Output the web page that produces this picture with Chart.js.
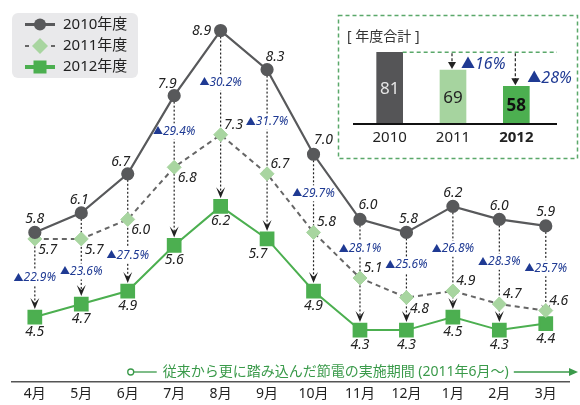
<!DOCTYPE html>
<html>
<head>
<meta charset="utf-8">
<script src="https://cdn.jsdelivr.net/npm/chart.js@4"></script>
<style>
body { margin: 0; background: #fff; }
#wrap { position: relative; width: 580px; height: 405px; }
#chart { position: absolute; left: 0; top: 0; }
#total { position: absolute; left: 337px; top: 14px; }
</style>
</head>
<body>
<div id="wrap">
  <canvas id="chart" width="580" height="405"></canvas>
  <canvas id="total" width="242" height="146"></canvas>
</div>
<script>
// monthly values
const months = ['4月', '5月', '6月', '7月', '8月', '9月', '10月', '11月', '12月', '1月', '2月', '3月'];
const fy2010 = [5.8, 6.1, 6.7, 7.9, 8.9, 8.3, 7.0, 6.0, 5.8, 6.2, 6.0, 5.9];
const fy2011 = [5.7, 5.7, 6.0, 6.8, 7.3, 6.7, 5.8, 5.1, 4.8, 4.9, 4.7, 4.6];
const fy2012 = [4.5, 4.7, 4.9, 5.6, 6.2, 5.7, 4.9, 4.3, 4.3, 4.5, 4.3, 4.4];
const reduction = [22.9, 23.6, 27.5, 29.4, 30.2, 31.7, 29.7, 28.1, 25.6, 26.8, 28.3, 25.7];
const seriesNames = ['2010年度', '2011年度', '2012年度'];

// yearly totals (inset)
const totalYears = ['2010', '2011', '2012'];
const totals = [81, 69, 58];
const totalReduction = [null, 16, 28];
const totalTitle = '[ 年度合計 ]';
const periodNote = '従来から更に踏み込んだ節電の実施期間 (2011年6月～)';
const periodStart = 2; // 6月

const FONT = "'Noto Sans', 'Noto Sans CJK JP', sans-serif";
const C2010 = '#58595b';
const C2011 = '#a8d5a0';
const C2012 = '#4caf50';
const BLUE = '#1f3a93';
const NOTE = '#3a9a4a';

function arrowHead(ctx, x, y, w, h) {
    // tip at (x, y), pointing down
    ctx.beginPath();
    ctx.moveTo(x, y);
    ctx.lineTo(x - w / 2, y - h);
    ctx.lineTo(x, y - h * 0.55);
    ctx.lineTo(x + w / 2, y - h);
    ctx.closePath();
    ctx.fill();
}

// upright triangle + italic number, returns nothing; align 'center' or 'left'
function drawDelta(ctx, txt, x, y, size, align) {
    const triFont = Math.round(size * 0.85) + 'px ' + FONT;
    const numFont = 'italic ' + size + 'px ' + FONT;
    ctx.font = triFont;
    const wt = ctx.measureText('▲').width;
    ctx.font = numFont;
    const wn = ctx.measureText(txt).width;
    const left = align === 'center' ? x - (wt + wn) / 2 : x;
    ctx.textAlign = 'left';
    ctx.textBaseline = 'middle';
    ctx.font = triFont;
    ctx.fillText('▲', left, y);
    ctx.font = numFont;
    ctx.fillText(txt, left + wt, y);
    return wt + wn;
}

const arrowsPlugin = {
    id: 'arrows',
    beforeDatasetsDraw(chart) {
        const ctx = chart.ctx;
        const m0 = chart.getDatasetMeta(0).data;
        const m1 = chart.getDatasetMeta(1).data;
        const m2 = chart.getDatasetMeta(2).data;
        ctx.save();
        m0.forEach((p, i) => {
            const x = p.x;
            const tip = m2[i].y - 8;
            ctx.strokeStyle = '#222';
            ctx.lineWidth = 1.2;
            ctx.setLineDash([2, 2]);
            ctx.beginPath();
            ctx.moveTo(x, p.y + 6);
            ctx.lineTo(x, tip - 5);
            ctx.stroke();
            ctx.setLineDash([]);
            ctx.fillStyle = '#222';
            arrowHead(ctx, x, tip, 9, 11);

            const gap = fy2010[i] - fy2011[i];
            const ly = gap < 0.8 ? (m1[i].y + m2[i].y) / 2 : (p.y + m1[i].y) / 2;
            const txt = reduction[i].toFixed(1) + '%';
            ctx.font = 'italic 12px ' + FONT;
            const w = ctx.measureText(txt).width + 11;
            ctx.fillStyle = '#fff';
            ctx.fillRect(x - w / 2 - 1, ly - 8, w + 2, 16);
            ctx.fillStyle = BLUE;
            drawDelta(ctx, txt, x, ly, 12, 'center');
        });
        ctx.restore();
    }
};

// label offsets per point (dx, dy)
const off2010 = [[0, -13], [-2, -13], [-7, -12], [-7, -12], [-19, 0], [8, -13], [10, -14], [8, -14], [2, -13], [0, -13], [0, -13], [0, -14]];
const below2011 = [0, 1, 2, 3, 8];

const valueLabels = {
    id: 'valueLabels',
    afterDatasetsDraw(chart) {
        const ctx = chart.ctx;
        ctx.save();
        ctx.font = 'italic 14px ' + FONT;
        ctx.fillStyle = '#222';
        ctx.textAlign = 'center';
        ctx.textBaseline = 'middle';
        chart.getDatasetMeta(0).data.forEach((p, i) => {
            ctx.fillText(fy2010[i].toFixed(1), p.x + off2010[i][0], p.y + off2010[i][1]);
        });
        chart.getDatasetMeta(1).data.forEach((p, i) => {
            const dy = below2011.includes(i) ? 11 : -10;
            ctx.fillText(fy2011[i].toFixed(1), p.x + 13, p.y + dy);
        });
        chart.getDatasetMeta(2).data.forEach((p, i) => {
            ctx.fillText(fy2012[i].toFixed(1), p.x + (i === 5 ? -9 : 0), p.y + 15);
        });
        ctx.restore();
    }
};

const legendAndNote = {
    id: 'legendAndNote',
    afterDraw(chart) {
        const ctx = chart.ctx;
        ctx.save();
        // legend box
        ctx.fillStyle = '#e9e9eb';
        ctx.beginPath();
        ctx.roundRect(12, 13, 126, 65, 6);
        ctx.fill();
        const rows = [24.5, 46, 67];
        ctx.lineWidth = 3;
        ctx.strokeStyle = C2010;
        ctx.beginPath(); ctx.moveTo(25, rows[0]); ctx.lineTo(55, rows[0]); ctx.stroke();
        ctx.fillStyle = C2010;
        ctx.beginPath(); ctx.arc(40, rows[0], 6, 0, Math.PI * 2); ctx.fill();

        ctx.strokeStyle = '#666';
        ctx.lineWidth = 2;
        ctx.beginPath(); ctx.moveTo(25, rows[1]); ctx.lineTo(29, rows[1]); ctx.moveTo(51, rows[1]); ctx.lineTo(55, rows[1]); ctx.stroke();
        ctx.fillStyle = C2011;
        ctx.beginPath();
        ctx.moveTo(40, rows[1] - 8); ctx.lineTo(48, rows[1]); ctx.lineTo(40, rows[1] + 8); ctx.lineTo(32, rows[1]);
        ctx.closePath(); ctx.fill();

        ctx.strokeStyle = C2012;
        ctx.lineWidth = 4;
        ctx.beginPath(); ctx.moveTo(25, rows[2]); ctx.lineTo(55, rows[2]); ctx.stroke();
        ctx.fillStyle = C2012;
        ctx.fillRect(33.5, rows[2] - 6.5, 13, 13);

        ctx.fillStyle = '#222';
        ctx.font = '15px ' + FONT;
        ctx.textAlign = 'left';
        ctx.textBaseline = 'middle';
        seriesNames.forEach((n, i) => ctx.fillText(n, 63, rows[i]));

        // period note
        const xs = chart.scales.x;
        const y = 372;
        const x0 = xs.getPixelForValue(periodStart) + 3;
        ctx.strokeStyle = NOTE;
        ctx.fillStyle = NOTE;
        ctx.lineWidth = 1.3;
        ctx.beginPath(); ctx.arc(x0, y, 3, 0, Math.PI * 2); ctx.stroke();
        ctx.beginPath(); ctx.moveTo(x0 + 3, y); ctx.lineTo(x0 + 26, y); ctx.stroke();
        ctx.font = '14px ' + FONT;
        ctx.fillText(periodNote, x0 + 32, y);
        const tEnd = x0 + 32 + ctx.measureText(periodNote).width;
        ctx.beginPath(); ctx.moveTo(tEnd + 5, y); ctx.lineTo(chart.width - 10, y); ctx.stroke();
        ctx.beginPath();
        ctx.moveTo(chart.width - 2, y); ctx.lineTo(chart.width - 11, y - 4); ctx.lineTo(chart.width - 11, y + 4);
        ctx.closePath(); ctx.fill();
        ctx.restore();
    }
};

new Chart(document.getElementById('chart'), {
    type: 'line',
    data: {
        labels: months,
        datasets: [{
            label: seriesNames[0],
            data: fy2010,
            borderColor: C2010,
            backgroundColor: C2010,
            borderWidth: 2.2,
            pointStyle: 'circle',
            pointRadius: 5.5,
            tension: 0
        }, {
            label: seriesNames[1],
            data: fy2011,
            borderColor: '#666',
            borderDash: [5, 4],
            borderWidth: 2,
            pointStyle: 'rectRot',
            pointRadius: 7,
            pointBackgroundColor: C2011,
            pointBorderColor: C2011,
            pointBorderWidth: 1,
            tension: 0
        }, {
            label: seriesNames[2],
            data: fy2012,
            borderColor: C2012,
            backgroundColor: C2012,
            borderWidth: 2,
            pointStyle: 'rect',
            pointRadius: 9,
            tension: 0
        }]
    },
    options: {
        responsive: false,
        animation: false,
        layout: { padding: { left: 11.6, right: 5.4, top: 4.7, bottom: 0 } },
        plugins: { legend: { display: false }, tooltip: { enabled: false } },
        scales: {
            x: {
                offset: true,
                grid: { display: false, drawTicks: false },
                border: { display: true, color: '#555', width: 1.5 },
                ticks: { color: '#222', padding: 3, font: { family: FONT, size: 14 } }
            },
            y: { display: false, min: 3.5, max: 9.2 }
        }
    },
    plugins: [arrowsPlugin, valueLabels, legendAndNote]
});

const totalPlugin = {
    id: 'totalPlugin',
    beforeDraw(chart) {
        const ctx = chart.ctx;
        ctx.save();
        ctx.strokeStyle = '#5aa86a';
        ctx.lineWidth = 1.5;
        ctx.setLineDash([4, 3]);
        ctx.strokeRect(1.5, 1.5, chart.width - 3, chart.height - 3);
        ctx.restore();
    },
    afterDatasetsDraw(chart) {
        const ctx = chart.ctx;
        const area = chart.chartArea;
        const bars = chart.getDatasetMeta(0).data;
        ctx.save();
        // baseline
        ctx.strokeStyle = '#111';
        ctx.lineWidth = 2;
        ctx.beginPath();
        ctx.moveTo(area.left - 5, area.bottom);
        ctx.lineTo(area.right + 9, area.bottom);
        ctx.stroke();

        ctx.fillStyle = '#333';
        ctx.font = '14px ' + FONT;
        ctx.textAlign = 'left';
        ctx.textBaseline = 'middle';
        ctx.fillText(totalTitle, 10, 23);

        // values in bars
        const colors = ['#e6e6e6', '#222', '#111'];
        ctx.textAlign = 'center';
        bars.forEach((b, i) => {
            ctx.fillStyle = colors[i];
            ctx.font = (i === 2 ? 'bold ' : '') + '17px ' + FONT;
            ctx.fillText(String(totals[i]), b.x, (b.y + area.bottom) / 2 + 1);
        });

        // reference line from 2010 top
        const top = bars[0].y;
        ctx.strokeStyle = '#5aa86a';
        ctx.lineWidth = 1.5;
        ctx.setLineDash([4, 3]);
        ctx.beginPath();
        ctx.moveTo(bars[0].x + 13, top);
        ctx.lineTo(area.right + 9, top);
        ctx.stroke();

        bars.forEach((b, i) => {
            if (totalReduction[i] == null) return;
            const x = b.x - 1;
            ctx.strokeStyle = '#222';
            ctx.lineWidth = 1.2;
            ctx.setLineDash([3, 2]);
            ctx.beginPath();
            ctx.moveTo(x, top + 1);
            ctx.lineTo(x, b.y - 7);
            ctx.stroke();
            ctx.setLineDash([]);
            ctx.fillStyle = '#222';
            ctx.beginPath();
            ctx.moveTo(x, b.y - 1);
            ctx.lineTo(x - 4, b.y - 8);
            ctx.lineTo(x + 4, b.y - 8);
            ctx.closePath();
            ctx.fill();

            ctx.fillStyle = BLUE;
            const dx = i === 1 ? 8 : 11;
            const dy = i === 1 ? -6 : -8;
            drawDelta(ctx, totalReduction[i] + '%', b.x + dx, b.y + dy, 16, 'left');
        });
        ctx.restore();
    }
};

new Chart(document.getElementById('total'), {
    type: 'bar',
    data: {
        labels: totalYears,
        datasets: [{
            data: totals,
            backgroundColor: ['#555557', '#a6d49f', '#4caf50'],
            barThickness: 26
        }]
    },
    options: {
        responsive: false,
        animation: false,
        layout: { padding: { left: 21, right: 31, top: 26, bottom: 8 } },
        plugins: { legend: { display: false }, tooltip: { enabled: false } },
        scales: {
            x: {
                grid: { display: false, drawTicks: false },
                border: { display: false },
                ticks: {
                    color: '#222',
                    padding: 5,
                    font: (c) => ({ family: FONT, size: 15, weight: c.index === 2 ? 'bold' : 'normal' })
                }
            },
            y: { display: false, min: 32.4, max: 89.3 }
        }
    },
    plugins: [totalPlugin]
});
</script>
</body>
</html>
